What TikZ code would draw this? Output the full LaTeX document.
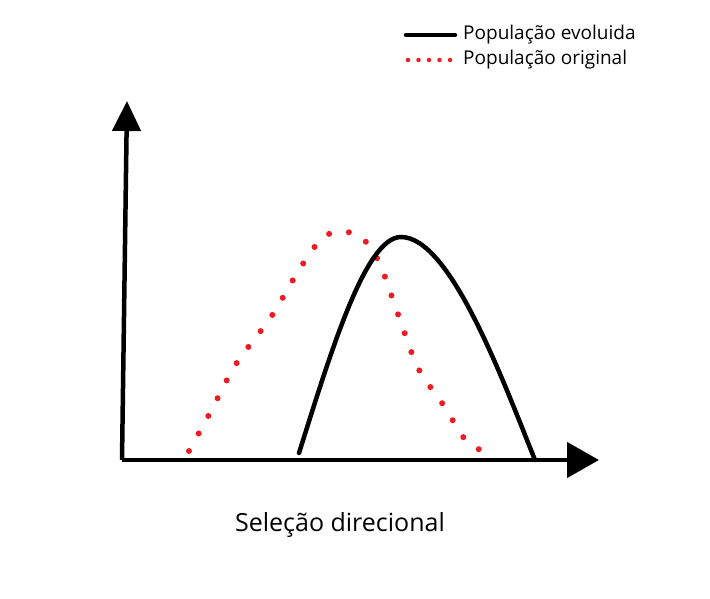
\documentclass[tikz,border=0pt]{standalone}
\usepackage{fontspec}
\setmainfont{Open Sans}
\usetikzlibrary{arrows.meta}

\definecolor{pontos}{RGB}{237,28,36}

\begin{document}
\begin{tikzpicture}[x=1pt, y=-1pt,
    eixo/.style={line width=4.5pt},
    evoluida/.style={line width=4.5pt, line cap=round},
    original/.style={pontos, line width=6pt, line cap=round, dash pattern=on 0pt off 20pt},
    legenda/.style={anchor=west, inner sep=0pt, font=\fontsize{19}{22}\selectfont}]
        \useasboundingbox (0,0) rectangle (710,599);

        % Eixos
        \coordinate (O) at (122,460);
        \coordinate (Y) at (127,101);
        \coordinate (X) at (599,460);
        \draw[eixo, -{Triangle[length=30pt, width=28pt]}] (O) -- (Y);
        \draw[eixo, -{Triangle[length=32pt, width=35pt]}] (O) -- (X);

        % Curvas
        \coordinate (ev0) at (299,453);
        \coordinate (evtopo) at (401,237);
        \coordinate (ev1) at (535,460);
        \draw[original] plot[smooth] coordinates {(189,451) (211,411) (236,364) (271,317) (299,270) (322,238) (340,232) (360,236) (379,262) (399,317) (418,368) (442,403) (467,442) (485,451)};
        \draw[evoluida] (ev0) .. controls (330,355) and (365,237) .. (evtopo)
                              .. controls (450,237) and (502,378) .. (ev1);

        % Legenda
        \coordinate (le1) at (406,35);
        \coordinate (le2) at (455,35);
        \coordinate (lo1) at (408,60);
        \coordinate (lo2) at (450,60);
        \draw[evoluida] (le1) -- (le2);
        \draw[original, line width=4.5pt, dash pattern=on 0pt off 10.5pt] (lo1) -- (lo2);
        \node[legenda] (tev) at (463,35) {População evoluida};
        \node[legenda] (tor) at (463,60) {População original};

        % Titulo
        \node[font=\fontsize{25}{28}\selectfont] (titulo) at (340,525) {Seleção direcional};
    \end{tikzpicture}
\end{document}
